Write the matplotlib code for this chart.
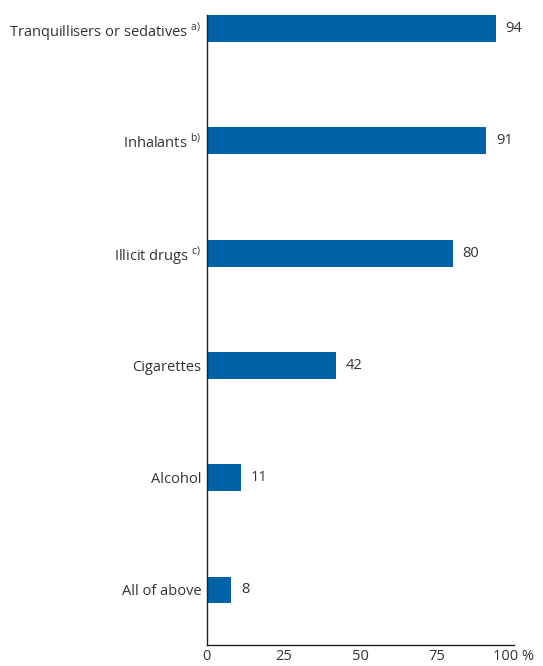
import matplotlib
matplotlib.use("Agg")
import matplotlib.pyplot as plt

categories = ["Tranquillisers or sedatives", "Inhalants", "Illicit drugs", "Cigarettes", "Alcohol", "All of above"]
notes = ["a)", "b)", "c)", "", "", ""]
values = [94, 91, 80, 42, 11, 8]
xticks = [0, 25, 50, 75, 100]
xticklabels = ["0", "25", "50", "75", "100 %"]

plt.rcParams['font.family'] = ['Open Sans', 'DejaVu Sans']
plt.rcParams['mathtext.fontset'] = 'custom'
plt.rcParams['mathtext.rm'] = 'Open Sans'
text_color = "#333333"
bar_color = "#0063A6"

fig = plt.figure(figsize=(5.43, 6.66), dpi=100)
ax = fig.add_axes([0.381, 0.0315, 0.5655, 0.946])

n = len(categories)
ypos = list(range(n - 1, -1, -1))
ax.barh(ypos, values, height=0.24, color=bar_color)
for y, v in zip(ypos, values):
    ax.annotate(str(v), (v, y), xytext=(7, 0), textcoords="offset points",
                va="center", ha="left", fontsize=10.5, color=text_color)

labels = []
for c, nt in zip(categories, notes):
    if nt:
        labels.append(c + r" $^{\mathregular{" + nt + "}}$")
    else:
        labels.append(c)
ax.set_yticks(ypos)
ax.set_yticklabels(labels, fontsize=10.5, color=text_color)
ax.set_xticks(xticks)
ax.set_xticklabels(xticklabels, fontsize=10.5, color=text_color)
ax.tick_params(axis="both", length=0)
ax.tick_params(axis="y", pad=4)
ax.tick_params(axis="x", pad=3)
ax.set_xlim(0, 100)
ax.set_ylim(-0.49, n - 1 + 0.12)
for s in ["top", "right"]:
    ax.spines[s].set_visible(False)
for s in ["left", "bottom"]:
    ax.spines[s].set_color("#222222")
    ax.spines[s].set_linewidth(1.0)

fig.savefig("out.png", dpi=100)
